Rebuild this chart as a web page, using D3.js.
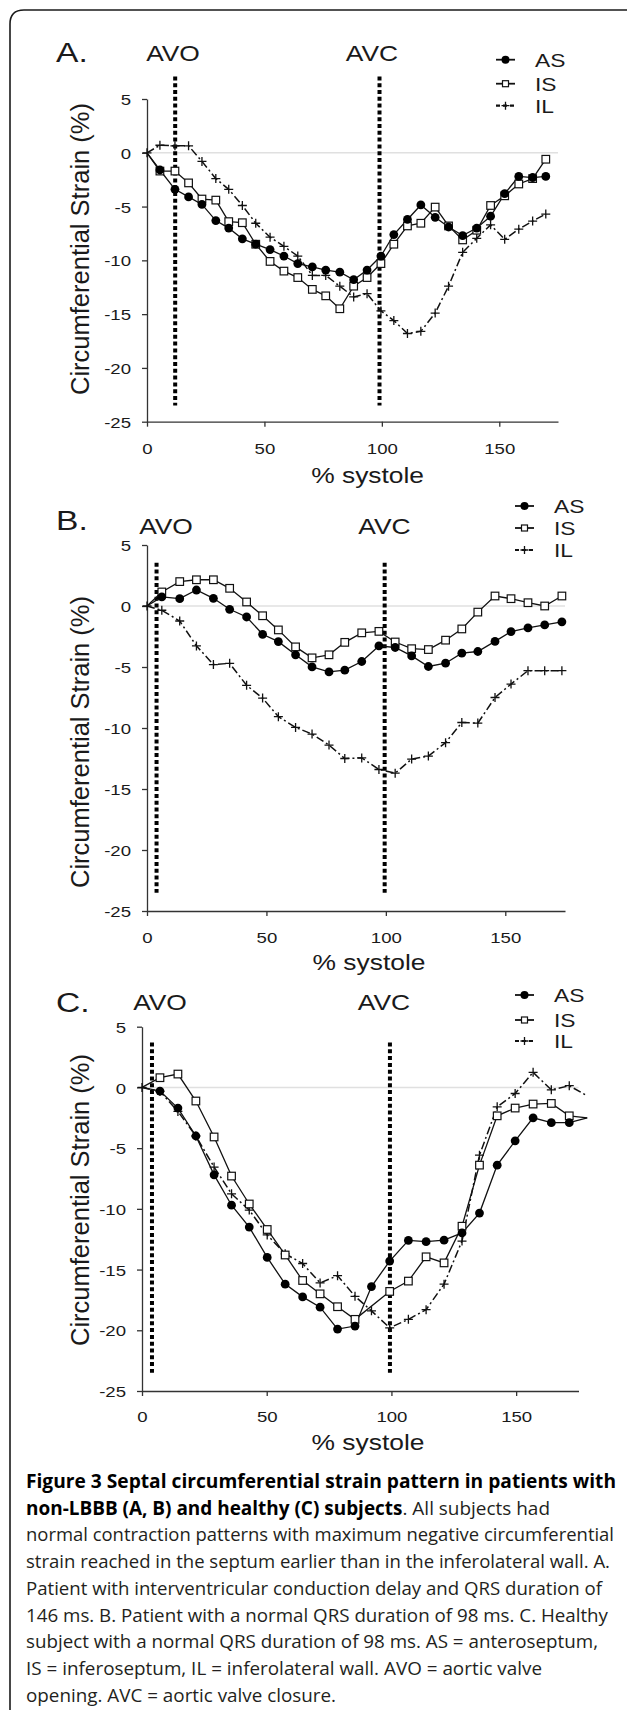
<!DOCTYPE html>
<html>
<head>
<meta charset="utf-8">
<script src="https://d3js.org/d3.v7.min.js"></script>
<style>
  body { margin: 0; background: #fff; }
  svg { display: block; }
  .chart text { font-family: "Liberation Sans", Arial, sans-serif; fill: #1a1a1a; }
  .caption text { font-family: "Open Sans", "Noto Sans", sans-serif; font-size: 19px; fill: #231f20; }
</style>
</head>
<body>
<div id="figure"></div>
<script>
// % systole of each sample, and circumferential strain (%) per segment
// A. interventricular conduction delay, QRS 146 ms
var xA = [0, 5.5, 11.9, 17.7, 23.4, 29.3, 34.8, 40.6, 46.3, 52.4, 58.3, 64.2, 70.4, 76.1, 82.1,
          88.0, 93.7, 99.6, 105.1, 110.9, 116.6, 122.7, 128.4, 134.4, 140.4, 146.3, 152.3, 158.3, 164.2, 169.8];
var asA = [0, -1.6, -3.4, -4.1, -4.8, -6.3, -7.0, -8.0, -8.5, -9.0, -9.6, -10.3, -10.6, -10.9, -11.1,
           -11.8, -10.9, -9.6, -7.6, -6.2, -4.85, -6.0, -6.9, -7.7, -7.0, -5.9, -3.8, -2.2, -2.3, -2.2];
var isA = [0, -1.7, -1.7, -2.8, -4.3, -4.4, -6.4, -6.5, -8.5, -10.1, -11.0, -11.6, -12.7, -13.3, -14.5,
           -12.4, -11.6, -10.3, -8.5, -6.8, -6.55, -5.05, -6.8, -8.1, -7.2, -4.9, -4.0, -2.9, -2.4, -0.6];
var ilA = [0, 0.7, 0.65, 0.65, -0.8, -2.4, -3.4, -4.9, -6.55, -7.85, -8.7, -9.6, -11.4, -11.4, -12.4,
           -13.4, -13.1, -14.7, -15.6, -16.8, -16.6, -14.9, -12.4, -9.25, -7.95, -6.7, -8.05, -7.1, -6.35, -5.7];

// B. normal QRS, 98 ms
var xB = [0, 6.2, 13.7, 20.7, 27.8, 34.6, 41.7, 48.4, 55.0, 62.2, 69.1, 76.2, 82.8,
          89.9, 97.1, 103.9, 110.8, 117.8, 125.0, 131.8, 138.5, 145.7, 152.4, 159.5, 166.5, 173.7];
var asB = [0, 0.74, 0.6, 1.31, 0.63, -0.27, -0.9, -2.32, -2.92, -4.0, -4.99, -5.4, -5.26,
           -4.55, -3.27, -3.4, -4.09, -4.96, -4.69, -3.87, -3.73, -2.9, -2.1, -1.8, -1.55, -1.3];
var isB = [0, 1.15, 2.0, 2.15, 2.15, 1.45, 0.33, -0.8, -1.96, -3.35, -4.25, -4.0, -2.98,
           -2.2, -2.08, -2.95, -3.5, -3.57, -2.8, -1.88, -0.5, 0.82, 0.6, 0.27, 0.0, 0.82];
var ilB = [0, -0.35, -1.23, -3.27, -4.8, -4.7, -6.5, -7.55, -9.07, -9.95, -10.5, -11.4, -12.5,
           -12.45, -13.4, -13.7, -12.55, -12.3, -11.2, -9.55, -9.6, -7.5, -6.4, -5.3, -5.3, -5.3];

// C. healthy subject, QRS 98 ms (no IS sample visible at ~92 %)
var xC = [0, 7.2, 14.4, 21.6, 28.9, 35.9, 43.0, 50.2, 57.4, 64.4, 71.4, 78.4, 85.4,
          92.0, 99.3, 106.8, 113.9, 121.1, 128.3, 135.3, 142.4, 149.6, 156.8, 164.1, 171.3, 178.5];
var asC = [0, -0.3, -1.7, -4.0, -7.2, -9.7, -11.5, -14.0, -16.2, -17.25, -18.1, -19.9, -19.65,
           -16.4, -14.3, -12.6, -12.7, -12.58, -11.98, -10.35, -6.4, -4.4, -2.5, -2.9, -2.9, -2.5];
var isC = [0, 0.8, 1.1, -1.12, -4.08, -7.3, -9.6, -11.7, -13.8, -15.9, -17.0, -18.06, -19.1,
           null, -16.8, -15.95, -13.95, -14.45, -11.43, -6.4, -2.34, -1.7, -1.37, -1.32, -2.34, -2.5];
var ilC = [0, -0.33, -1.98, -4.0, -6.56, -8.76, -10.1, -12.15, -13.7, -14.5, -16.1, -15.5, -17.2,
           -18.4, -19.8, -19.1, -18.3, -16.2, -12.65, -5.58, -1.6, -0.5, 1.24, -0.2, 0.14, -0.7];

// aortic valve opening / closure (% systole)
var avoA = 12, avcA = 99;
var avoB = 4, avcB = 99.5;
var avoC = 4, avcC = 99.4;

var yTicks = [5, 0, -5, -10, -15, -20, -25];
var xTicks = [0, 50, 100, 150];
var segments = ["AS", "IS", "IL"];

var captionLines = [
    [["Figure 3 Septal circumferential strain pattern in patients with", true]],
    [["non-LBBB (A, B) and healthy (C) subjects", true], [". All subjects had", false]],
    [["normal contraction patterns with maximum negative circumferential", false]],
    [["strain reached in the septum earlier than in the inferolateral wall. A.", false]],
    [["Patient with interventricular conduction delay and QRS duration of", false]],
    [["146 ms. B. Patient with a normal QRS duration of 98 ms. C. Healthy", false]],
    [["subject with a normal QRS duration of 98 ms. AS = anteroseptum,", false]],
    [["IS = inferoseptum, IL = inferolateral wall. AVO = aortic valve", false]],
    [["opening. AVC = aortic valve closure.", false]]
];
var captionWidths = [590, 524, 588, 584, 576, 582, 572, 516, 310];

// the source panels were widened, so their lettering is too
var stretch = 1.2;

var svg = d3.select("#figure").append("svg")
    .attr("width", 627)
    .attr("height", 1710);

// figure frame (runs off the right and bottom edge)
svg.append("path")
    .attr("d", "M10,1720 V24 Q10,10 24,10 H640")
    .attr("fill", "none")
    .attr("stroke", "#1a1a1a")
    .attr("stroke-width", 1.6);

var panels = [
    { name: "A.", x: xA, as: asA, is: isA, il: ilA, avo: avoA, avc: avcA, valveTop: 7.1,
      xr: [147, 558], yr: [421.7, 99], nameY: 62, valveY: 61, avoX: 173, avcX: 372,
      legX: 496, legY: [66.7, 90.7, 112.7], tickY: 454, xTitle: [367.6, 483], yTitle: [89, 249] },
    { name: "B.", x: xB, as: asB, is: isB, il: ilB, avo: avoB, avc: avcB, valveTop: 3.55,
      xr: [147, 565], yr: [911, 545], nameY: 530, valveY: 534, avoX: 166, avcX: 384.5,
      legX: 515, legY: [513, 535, 557], tickY: 943, xTitle: [369, 970], yTitle: [89, 742] },
    { name: "C.", x: xC, as: asC, is: isC, il: ilC, avo: avoC, avc: avcC, valveTop: 3.7,
      xr: [142, 578.5], yr: [1391, 1026.7], nameY: 1012, valveY: 1010, avoX: 160, avcX: 384,
      legX: 515, legY: [1002, 1027, 1048], tickY: 1422, xTitle: [368, 1450], yTitle: [89, 1200] }
];

function label(g, str, x, y, size, anchor) {
    return g.append("text")
        .attr("transform", "translate(" + x + "," + y + ") scale(" + stretch + ",1)")
        .attr("text-anchor", anchor || "start")
        .style("font-size", size + "px")
        .text(str);
}

function plus(g, cx, cy, s) {
    g.append("path")
        .attr("d", "M" + (cx - s) + "," + cy + "H" + (cx + s) + "M" + cx + "," + (cy - s) + "V" + (cy + s))
        .attr("stroke", "#111")
        .attr("stroke-width", 1.3)
        .attr("fill", "none");
}

// plain hyphen for negatives, as in the source
var fmt = function (d) { return String(d); };

panels.forEach(function (p) {
    var g = svg.append("g").attr("class", "chart");

    var x = d3.scaleLinear().domain([0, 175]).range(p.xr);
    var y = d3.scaleLinear().domain([-25, 5]).range(p.yr);

    // zero reference
    g.append("line")
        .attr("x1", x(0)).attr("x2", x(175))
        .attr("y1", y(0)).attr("y2", y(0))
        .attr("stroke", "#e0e0e0")
        .attr("stroke-width", 1.5);

    // axes
    var xAxis = g.append("g")
        .attr("transform", "translate(0," + y(-25) + ")")
        .call(d3.axisBottom(x).tickValues(xTicks).tickFormat(fmt).tickSize(5).tickSizeOuter(0));
    xAxis.selectAll("text")
        .attr("y", null).attr("dy", null)
        .attr("transform", "translate(0," + (p.tickY - y(-25)) + ") scale(" + stretch + ",1)")
        .style("font-size", "15.5px");

    var yAxis = g.append("g")
        .attr("transform", "translate(" + x(0) + ",0)")
        .call(d3.axisLeft(y).tickValues(yTicks).tickFormat(fmt).tickSize(5).tickSizeOuter(0));
    yAxis.selectAll("text")
        .attr("x", null).attr("dy", "0.36em")
        .attr("transform", "translate(-16,0) scale(" + stretch + ",1)")
        .style("font-size", "15.5px");

    g.selectAll(".domain, .tick line").attr("stroke", "#333").attr("stroke-width", 1.3);
    g.selectAll(".tick text").attr("fill", "#1a1a1a").style("font-family", "'Liberation Sans', Arial, sans-serif");

    // AVO / AVC markers
    [p.avo, p.avc].forEach(function (v) {
        g.append("line")
            .attr("x1", x(v)).attr("x2", x(v))
            .attr("y1", y(p.valveTop)).attr("y2", y(-23.5))
            .attr("stroke", "#000")
            .attr("stroke-width", 4)
            .attr("stroke-dasharray", "4,2.8");
    });

    // series
    function pts(vals) {
        return p.x.map(function (d, i) { return [d, vals[i]]; })
            .filter(function (d) { return d[1] !== null; });
    }
    var line = d3.line().x(function (d) { return x(d[0]); }).y(function (d) { return y(d[1]); });

    g.append("path").attr("d", line(pts(p.il)))
        .attr("fill", "none").attr("stroke", "#111").attr("stroke-width", 1.5)
        .attr("stroke-dasharray", "8,3,2,3");
    g.append("path").attr("d", line(pts(p.is)))
        .attr("fill", "none").attr("stroke", "#111").attr("stroke-width", 1.3);
    g.append("path").attr("d", line(pts(p.as)))
        .attr("fill", "none").attr("stroke", "#111").attr("stroke-width", 1.3);

    var onAxis = function (d) { return d[0] > 0 && d[0] <= 175; };

    pts(p.il).filter(function (d) { return d[0] <= 175; }).forEach(function (d) {
        plus(g, x(d[0]), y(d[1]), 4.5);
    });
    g.selectAll(".is").data(pts(p.is).filter(onAxis)).enter()
        .append("rect")
        .attr("x", function (d) { return x(d[0]) - 3.8; })
        .attr("y", function (d) { return y(d[1]) - 3.8; })
        .attr("width", 7.6).attr("height", 7.6)
        .attr("fill", "#fff").attr("stroke", "#111").attr("stroke-width", 1.2);
    g.selectAll(".as").data(pts(p.as).filter(onAxis)).enter()
        .append("circle")
        .attr("cx", function (d) { return x(d[0]); })
        .attr("cy", function (d) { return y(d[1]); })
        .attr("r", 4.4)
        .attr("fill", "#000");

    // lettering
    label(g, p.name, 56, p.nameY, 28);
    label(g, "AVO", p.avoX, p.valveY, 22, "middle");
    label(g, "AVC", p.avcX, p.valveY, 22, "middle");
    label(g, "% systole", p.xTitle[0], p.xTitle[1], 22, "middle");
    g.append("text")
        .attr("transform", "translate(" + p.yTitle[0] + "," + p.yTitle[1] + ") scale(" + stretch + ",1) rotate(-90)")
        .attr("text-anchor", "middle")
        .attr("textLength", 292)
        .attr("lengthAdjust", "spacingAndGlyphs")
        .style("font-size", "22px")
        .text("Circumferential Strain (%)");

    // legend
    segments.forEach(function (s, i) {
        var ly = p.legY[i] - 7;
        var lx = p.legX;
        if (s === "IL") {
            g.append("line").attr("x1", lx).attr("x2", lx + 19).attr("y1", ly).attr("y2", ly)
                .attr("stroke", "#111").attr("stroke-width", 2.2).attr("stroke-dasharray", "4,3");
            plus(g, lx + 9.5, ly, 4);
        } else {
            g.append("line").attr("x1", lx).attr("x2", lx + 19).attr("y1", ly).attr("y2", ly)
                .attr("stroke", "#111").attr("stroke-width", 1.8);
            if (s === "AS") {
                g.append("circle").attr("cx", lx + 9.5).attr("cy", ly).attr("r", 4).attr("fill", "#000");
            } else {
                g.append("rect").attr("x", lx + 6.5).attr("y", ly - 3).attr("width", 6).attr("height", 6)
                    .attr("fill", "#fff").attr("stroke", "#111").attr("stroke-width", 1.2);
            }
        }
        label(g, s, lx + 39, p.legY[i], 19);
    });
});

// caption
var cap = svg.append("g").attr("class", "caption");
captionLines.forEach(function (parts, i) {
    var t = cap.append("text")
        .attr("x", 26)
        .attr("y", 1488 + i * 26.7)
        .attr("textLength", captionWidths[i])
        .attr("lengthAdjust", "spacingAndGlyphs");
    parts.forEach(function (part) {
        t.append("tspan")
            .style("font-weight", part[1] ? "700" : "400")
            .style("fill", part[1] ? "#000" : "#231f20")
            .text(part[0]);
    });
});
</script>
</body>
</html>
